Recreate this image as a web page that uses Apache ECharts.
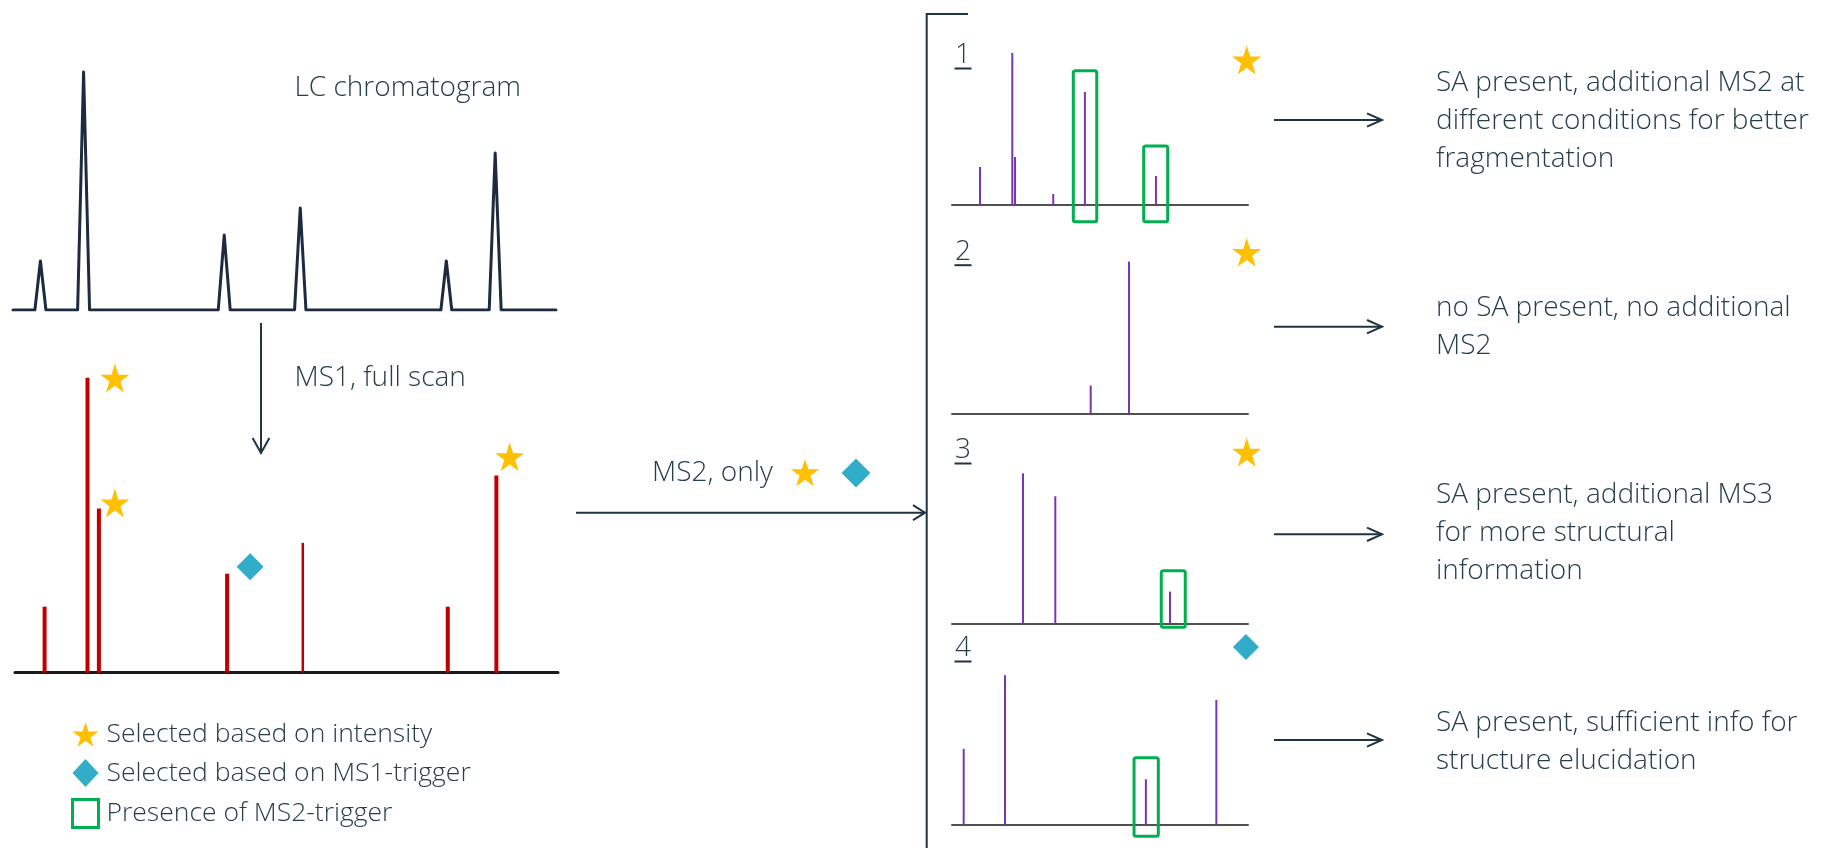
<!DOCTYPE html>
<html>
<head>
<meta charset="utf-8">
<script src="https://cdn.jsdelivr.net/npm/echarts@6/dist/echarts.min.js"></script>
<style>
html,body{margin:0;padding:0;background:#fff;}
#chart{width:1825px;height:848px;}
</style>
</head>
<body>
<div id="chart"></div>
<script>
// ---------------- DATA ----------------
// LC chromatogram (retention time, relative intensity)
const chromPeakTime = [5.05, 13.0, 38.9, 52.9, 79.8, 88.8];
const chromPeakHeight = [19.6, 95.2, 30.0, 40.8, 19.6, 62.8];
const chromPeakHalfWidth = [1.02, 1.1, 1.1, 1.05, 1.0, 1.1];

// MS1 full scan (m/z, intensity)
const ms1Mz = [5.45, 13.35, 15.45, 39.06, 79.7, 88.65];
const ms1Int = [22.0, 98.3, 54.7, 33.0, 22.0, 65.7];
const ms1MinorMz = [53.0];
const ms1MinorInt = [43.3];

// selection markers in MS1
const intensityMarkX = [18.4, 18.4, 91.1];
const intensityMarkY = [98.2, 56.6, 72.0];
const triggerMarkX = [43.3];
const triggerMarkY = [35.3];

// MS2 spectra (m/z, intensity)
const p1Mz = [9.46, 20.37, 21.28, 34.2, 44.9, 68.9];
const p1Int = [23.75, 95.0, 30.0, 6.9, 70.6, 18.1];
const p2Mz = [46.86, 59.8];
const p2Int = [17.3, 94.8];
const p3Mz = [23.99, 34.9, 73.65];
const p3Int = [93.75, 79.4, 19.8];
const p4Mz = [3.95, 17.9, 65.5, 89.3];
const p4Int = [48.1, 95.0, 28.75, 79.2];

// MS2-trigger boxes [mzFrom, mzTo, intFrom, intTo]
const p1Boxes = [[40.98, 48.9, -10.4, 83.9], [64.76, 72.87, -10.4, 36.9]];
const p3Boxes = [[70.7, 78.8, -2.5, 32.9]];
const p4Boxes = [[61.5, 69.7, -7.5, 42.5]];

// panel status markers [mz, int]
const panelStarMarks = [[99.56, 90.6], [99.56, 100.6], [99.56, 106.9]]; // panels 1,2,3
const panelDiamondMarks = [[99.3, 112.9]]; // panel 4

// texts
const panelLabels = ['1', '2', '3', '4'];
const outcomeTexts = [
  'SA present, additional MS2 at\ndifferent conditions for better\nfragmentation',
  'no SA present, no additional\nMS2',
  'SA present, additional MS3\nfor more structural\ninformation',
  'SA present, sufficient info for\nstructure elucidation'
];
const legendNames = ['Selected based on intensity', 'Selected based on MS1-trigger', 'Presence of MS2-trigger'];

// ---------------- STYLE ----------------
const TXT = '#263e4a';
const LINE = '#1e3440';
const FONT = '"Open Sans"';
const FW = 300;
const FS = 28;
const FS_LEGEND = 26.5;
const STAR = 'path://M50 0 L61.2 34.5 L97.6 34.5 L68.2 55.9 L79.4 90.5 L50 69.1 L20.6 90.5 L31.8 55.9 L2.4 34.5 L38.8 34.5 Z';
const GOLD = '#ffc000';
const TEAL = '#31acc9';
const GREEN = '#00b050';
const RED = '#c00000';
const PURPLE = '#7a35b5';

// ---------------- LAYOUT ----------------
const gridsDef = [
  {left: 13, top: 60, width: 543, height: 250},      // chromatogram
  {left: 15, top: 372.7, width: 543, height: 300},   // MS1
  {left: 952, top: 45, width: 296, height: 184},     // panel 1
  {left: 952, top: 253.3, width: 296, height: 184},  // panel 2
  {left: 952, top: 463.3, width: 296, height: 184},  // panel 3
  {left: 952, top: 667.3, width: 296, height: 184}   // panel 4
];
const yRanges = [[0, 100], [0, 100], [-15, 100], [-15, 100], [-15, 100], [-15, 100]];

const xAxes = gridsDef.map((g, i) => ({
  type: 'value', gridIndex: i, min: 0, max: 100,
  axisLine: {show: i >= 1, onZero: true, lineStyle: {color: i === 1 ? '#1a1a1a' : '#505050', width: i === 1 ? 3 : 2}},
  axisTick: {show: false}, axisLabel: {show: false}, splitLine: {show: false}
}));
const yAxes = gridsDef.map((g, i) => ({
  type: 'value', gridIndex: i, min: yRanges[i][0], max: yRanges[i][1], show: false,
  splitLine: {show: false}
}));

// chromatogram line from peak table
const chromData = [[0, 0]];
chromPeakTime.forEach((t, i) => {
  chromData.push([t - chromPeakHalfWidth[i], 0], [t, chromPeakHeight[i]], [t + chromPeakHalfWidth[i], 0]);
});
chromData.push([100, 0]);

function zip(a, b) { return a.map((v, i) => [v, b[i]]); }

function stickSeries(axis, xs, ys, color, width) {
  return {
    type: 'custom', name: 'sticks' + axis + '_' + width, xAxisIndex: axis, yAxisIndex: axis,
    data: zip(xs, ys), clip: false, silent: true, z: 3,
    encode: {x: 0, y: 1},
    renderItem: function (params, api) {
      const p0 = api.coord([api.value(0), 0]);
      const p1 = api.coord([api.value(0), api.value(1)]);
      return {type: 'line', shape: {x1: p0[0], y1: p0[1], x2: p1[0], y2: p1[1]},
        style: {stroke: color, lineWidth: width, lineCap: 'butt'}};
    }
  };
}
function boxSeries(axis, boxes) {
  return {
    type: 'custom', name: legendNames[2], xAxisIndex: axis, yAxisIndex: axis,
    data: boxes, clip: false, silent: true, z: 4,
    encode: {x: [0, 1], y: [2, 3]},
    itemStyle: {color: GREEN},
    renderItem: function (params, api) {
      const a = api.coord([api.value(0), api.value(3)]);
      const b = api.coord([api.value(1), api.value(2)]);
      return {type: 'rect', shape: {x: a[0], y: a[1], width: b[0] - a[0], height: b[1] - a[1], r: 2},
        style: {fill: 'none', stroke: GREEN, lineWidth: 3}};
    }
  };
}
function markSeries(axis, name, symbol, size, color, data) {
  return {type: 'scatter', name: name, xAxisIndex: axis, yAxisIndex: axis, symbol: symbol,
    symbolSize: size, itemStyle: {color: color, opacity: 1}, data: data, clip: false, silent: true, z: 5};
}

const series = [
  {type: 'line', name: 'LC', xAxisIndex: 0, yAxisIndex: 0, data: chromData, symbol: 'none',
   lineStyle: {color: '#1c2b3f', width: 3, join: 'round', cap: 'round'}, silent: true, z: 3},
  stickSeries(1, ms1Mz, ms1Int, RED, 4),
  stickSeries(1, ms1MinorMz, ms1MinorInt, RED, 2.5),
  markSeries(1, legendNames[0], STAR, [29, 29], GOLD, zip(intensityMarkX, intensityMarkY)),
  markSeries(1, legendNames[1], 'diamond', [27, 27], TEAL, zip(triggerMarkX, triggerMarkY)),
  stickSeries(2, p1Mz, p1Int, PURPLE, 2),
  stickSeries(3, p2Mz, p2Int, PURPLE, 2),
  stickSeries(4, p3Mz, p3Int, PURPLE, 2),
  stickSeries(5, p4Mz, p4Int, PURPLE, 2),
  boxSeries(2, p1Boxes),
  boxSeries(4, p3Boxes),
  boxSeries(5, p4Boxes),
  markSeries(2, legendNames[0], STAR, [29, 29], GOLD, [panelStarMarks[0]]),
  markSeries(3, legendNames[0], STAR, [29, 29], GOLD, [panelStarMarks[1]]),
  markSeries(4, legendNames[0], STAR, [29, 29], GOLD, [panelStarMarks[2]]),
  markSeries(5, legendNames[1], 'diamond', [26, 26], TEAL, panelDiamondMarks)
];

// ---------------- GRAPHIC (texts, arrows) ----------------
function tstyle(s, align, valign, extra) {
  return Object.assign({text: s, fill: TXT, fontSize: FS, fontFamily: FONT, fontWeight: FW,
    align: align || 'left', verticalAlign: valign || 'middle'}, extra || {});
}
function txt(x, y, s, align, valign, extra) {
  return {type: 'text', x: x, y: y, silent: true, z: 10, style: tstyle(s, align, valign, extra)};
}
function line(x1, y1, x2, y2, w) {
  return {type: 'line', silent: true, z: 10, shape: {x1, y1, x2, y2}, style: {stroke: LINE, lineWidth: w || 2}};
}
function chevron(points) {
  return {type: 'polyline', silent: true, z: 10, shape: {points}, style: {stroke: LINE, lineWidth: 2, fill: null, lineJoin: 'miter'}};
}
function arrowRight(x1, x2, y, len, half) {
  return [line(x1, y, x2, y), chevron([[x2 - len, y - half], [x2, y], [x2 - len, y + half]])];
}
function arrowDown(x, y1, y2, len, half) {
  return [line(x, y1, x, y2), chevron([[x - half, y2 - len], [x, y2], [x + half, y2 - len]])];
}
function starPoly(cx, cy, R) {
  const pts = [];
  for (let k = 0; k < 10; k++) {
    const r = k % 2 === 0 ? R : R * 0.382;
    const a = -Math.PI / 2 + k * Math.PI / 5;
    pts.push([cx + r * Math.cos(a), cy + r * Math.sin(a)]);
  }
  return {type: 'polygon', silent: true, z: 10, shape: {points: pts}, style: {fill: GOLD}};
}

const graphics = [];
graphics.push(txt(294.5, 88, 'LC chromatogram'));
graphics.push(txt(294.5, 378, 'MS1, full scan'));
graphics.push(...arrowDown(261, 323, 453, 15, 8.4));
graphics.push(txt(652, 473, 'MS2, only'));
graphics.push(starPoly(805, 474, 15));
graphics.push({type: 'polygon', silent: true, z: 10,
  shape: {points: [[856, 460], [869, 473], [856, 486], [843, 473]]}, style: {fill: TEAL, lineJoin: 'round', stroke: TEAL, lineWidth: 2}});
graphics.push(...arrowRight(576, 925, 512.7, 12, 7.5));
// bracket
graphics.push({type: 'polyline', silent: true, z: 10, shape: {points: [[968, 14], [926.7, 14], [926.7, 848]]},
  style: {stroke: LINE, lineWidth: 2, fill: null}});
// panel labels
const labelY = [55, 251.7, 450, 648];
panelLabels.forEach((l, i) => {
  graphics.push(txt(963, labelY[i], l, 'center', 'middle'));
  graphics.push(line(954.5, labelY[i] + 13.5, 971.5, labelY[i] + 13.5, 2));
});
// outcome arrows and texts
const arrowY = [120, 326.7, 534.3, 740];
const textTop = [64.3, 289.3, 476, 704.3];
outcomeTexts.forEach((t, i) => {
  graphics.push(...arrowRight(1274, 1382, arrowY[i], 15, 6.7));
  graphics.push(txt(1436, textTop[i], t, 'left', 'top', {lineHeight: 38}));
});

const option = {
  animation: false,
  backgroundColor: '#ffffff',
  grid: gridsDef.map(g => Object.assign({containLabel: false}, g)),
  xAxis: xAxes,
  yAxis: yAxes,
  legend: {
    orient: 'vertical', left: 66, top: 716, itemWidth: 26, itemHeight: 28, itemGap: 11,
    selectedMode: false,
    textStyle: {fontSize: FS_LEGEND, fontFamily: FONT, fontWeight: FW, color: TXT, padding: [0, 0, 0, 3]},
    data: [
      {name: legendNames[0], icon: STAR, itemStyle: {color: GOLD, borderWidth: 0}},
      {name: legendNames[1], icon: 'diamond', itemStyle: {color: TEAL, borderWidth: 0}},
      {name: legendNames[2], icon: 'rect', itemStyle: {color: 'rgba(0,0,0,0)', borderColor: GREEN, borderWidth: 3}}
    ]
  },
  graphic: {elements: graphics},
  series: series
};

const chart = echarts.init(document.getElementById('chart'), null, {renderer: 'canvas'});
chart.setOption(option);
</script>
</body>
</html>
